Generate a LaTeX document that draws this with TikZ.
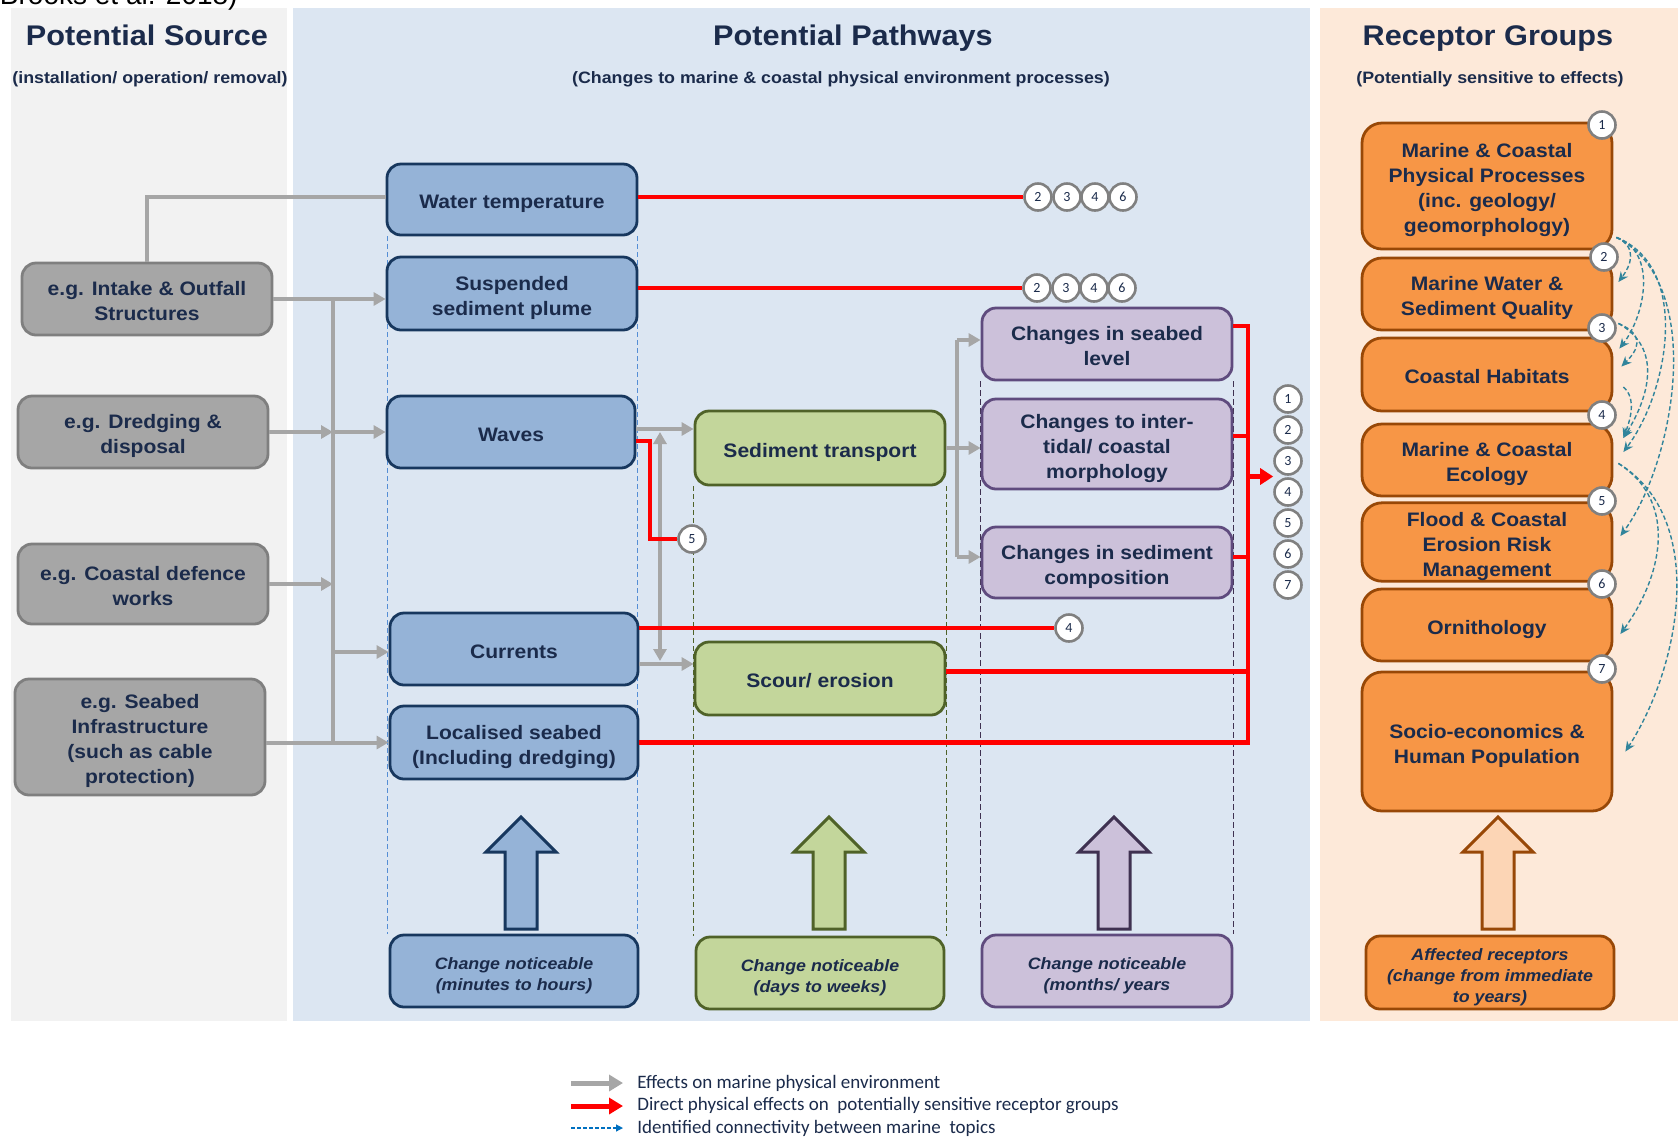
\documentclass[tikz,border=0pt]{standalone}
\usepackage{fontspec}
\setmainfont{Liberation Sans}[FakeStretch=1.08]
\newfontfamily\numfont{Carlito}
\newfontfamily\plainfont{Liberation Sans}
\usetikzlibrary{arrows.meta,calc}
\definecolor{txt}{HTML}{1B2B4B}
\definecolor{gfill}{HTML}{A6A6A6}
\definecolor{gdraw}{HTML}{7F7F7F}
\definecolor{bfill}{HTML}{95B3D7}
\definecolor{bdraw}{HTML}{17375E}
\definecolor{nfill}{HTML}{C3D69B}
\definecolor{ndraw}{HTML}{4F6228}
\definecolor{pfill}{HTML}{CCC1DA}
\definecolor{pdraw}{HTML}{5F4B7E}
\definecolor{pdark}{HTML}{3F3151}
\definecolor{ofill}{HTML}{F79646}
\definecolor{odraw}{HTML}{984807}
\definecolor{opeach}{HTML}{FCD5B5}
\definecolor{pan1}{HTML}{F2F2F2}
\definecolor{pan2}{HTML}{DCE6F2}
\definecolor{pan3}{HTML}{FDE9D9}
\definecolor{lgray}{HTML}{A6A6A6}
\definecolor{rd}{HTML}{FF0000}
\definecolor{tealc}{HTML}{31849B}
\definecolor{legblue}{HTML}{0070C0}
\definecolor{cgray}{HTML}{808080}
\definecolor{bguide}{HTML}{558ED5}
\pgfdeclarelayer{back}
\pgfdeclarelayer{mid}
\pgfsetlayers{back,mid,main}
\newcommand\fs{\rule{0pt}{11.7pt}}
\newcommand\fsi{\rule{0pt}{11.5pt}}
\newcommand\blockarrow[3]{\filldraw[line width=1.5pt, fill=#2, draw=#3, line join=miter]
  ({#1-16},929) -- ({#1-16},852) -- ({#1-35},852) -- (#1,817) -- ({#1+35},852) -- ({#1+16},852) -- ({#1+16},929) -- cycle;}
\tikzset{
 bxs/.style={rounded corners=7pt, line width=1.4pt, align=center, inner sep=0pt, text=txt,
   font=\bfseries\fontsize{9.75}{12.5}\selectfont, minimum width=125pt, minimum height=36pt,
   execute at begin node={\rule{0pt}{11.7pt}}, execute at end node={\rule[-2.5pt]{0pt}{2.5pt}}},
 gbox/.style={bxs, fill=gfill, draw=gdraw},
 bbox/.style={bxs, fill=bfill, draw=bdraw},
 nbox/.style={bxs, fill=nfill, draw=ndraw},
 pbox/.style={bxs, fill=pfill, draw=pdraw},
 obox/.style={bxs, fill=ofill, draw=odraw, rounded corners=10pt},
 ital/.style={font=\bfseries\itshape\fontsize{8.25}{10.5}\selectfont,
   execute at begin node={\rule{0pt}{11.5pt}}, execute at end node={\rule[-2pt]{0pt}{2pt}}},
 numc/.style={circle, draw=cgray, line width=1.3pt, fill=white, minimum size=13.5pt, inner sep=0pt,
   text=txt, font=\numfont\fontsize{7}{8}\selectfont},
 garr/.style={draw=lgray, line width=2pt, -{Triangle[length=6pt,width=6.5pt]}},
 gln/.style={draw=lgray, line width=2pt},
 rln/.style={draw=rd, line width=2.2pt},
 tarr/.style={draw=tealc, line width=0.7pt, dash pattern=on 2.2pt off 1.3pt, -{Stealth[length=5pt,width=4.5pt]}},
 ttl/.style={font=\bfseries\fontsize{14.2}{16}\selectfont, text=txt, anchor=base},
 subt/.style={font=\bfseries\fontsize{8.25}{10}\selectfont, text=txt, anchor=base},
 legt/.style={font=\numfont\fontsize{9.5}{11}\selectfont, text=txt, anchor=west, inner sep=0pt},
 guideb/.style={draw=bguide, line width=0.6pt, dash pattern=on 2.5pt off 1.5pt},
 guiden/.style={draw=ndraw, line width=0.6pt, dash pattern=on 2.5pt off 1.5pt},
 guidep/.style={draw=pdark, line width=0.7pt, dash pattern=on 3pt off 1.5pt},
}
\begin{document}
\begin{tikzpicture}[x=0.5pt,y=-0.5pt]
\useasboundingbox (0,0) rectangle (1678,1137);
\begin{pgfonlayer}{back}
\fill[white] (0,0) rectangle (1678,1137);
\fill[pan1] (11,8) rectangle (287,1021);
\fill[pan2] (293,8) rectangle (1310,1021);
\fill[pan3] (1320,8) rectangle (1678,1021);
\end{pgfonlayer}
\begin{scope}
\clip (0,0) rectangle (1678,1137);
\node[anchor=base east, font=\plainfont\fontsize{14}{16}\selectfont, text=black, inner sep=0pt] (cite) at (238,4) {Brooks et al. 2018)};
\end{scope}

% titles
\node[ttl] (t1) at (147,45) {Potential Source};
\node[subt] (s1) at (150,83.5) {(installation/ operation/ removal)};
\node[ttl] (t2) at (853,45) {Potential Pathways};
\node[subt] (s2) at (841,83.5) {(Changes to marine \& coastal physical environment processes)};
\node[ttl] (t3) at (1488,45) {Receptor Groups};
\node[subt] (s3) at (1490,83.5) {(Potentially sensitive to effects)};

% source boxes
\node[gbox] (G1) at (147,299) {\fs e.g. Intake \& Outfall\\Structures};
\node[gbox] (G2) at (143,432) {\fs e.g. Dredging \&\\disposal};
\node[gbox, minimum height=40pt] (G3) at (143,584) {\fs e.g. Coastal defence\\works};
\node[gbox, minimum height=58pt] (G4) at (140,737) {\fs e.g. Seabed\\Infrastructure\\(such as cable\\protection)};

% blue
\node[bbox, minimum height=35.5pt] (B1) at (512,199.5) {Water temperature};
\node[bbox, minimum height=36.5pt] (B2) at (512,293.5) {\fs Suspended\\sediment plume};
\node[bbox, minimum width=124pt] (B3) at (511,432) {Waves};
\node[bbox, minimum width=124pt] (B4) at (514,649) {Currents};
\node[bbox, minimum width=124pt, minimum height=36.5pt] (B5) at (514,742.5) {\fs Localised seabed\\(Including dredging)};
\node[bbox, minimum width=124pt, ital] (B6) at (514,971) {\fsi Change noticeable\\(minutes to hours)};

% green
\node[nbox, minimum height=37pt] (N1) at (820,448) {Sediment transport};
\node[nbox, minimum height=36.5pt] (N2) at (820,678.5) {Scour/ erosion};
\node[nbox, minimum width=124pt, ital] (N3) at (820,973) {\fsi Change noticeable\\(days to weeks)};

% purple
\node[pbox] (P1) at (1107,344) {\fs Changes in seabed\\level};
\node[pbox, minimum height=45pt] (P2) at (1107,444) {\fs Changes to inter-\\tidal/ coastal\\morphology};
\node[pbox, minimum height=35.5pt] (P3) at (1107,562.5) {\fs Changes in sediment\\composition};
\node[pbox, ital] (P4) at (1107,971) {\fsi Change noticeable\\(months/ years};

% orange
\node[obox, minimum height=63pt] (O1) at (1487,186) {\fs Marine \& Coastal\\Physical Processes\\(inc. geology/\\geomorphology)};
\node[obox] (O2) at (1487,294) {\fs Marine Water \&\\Sediment Quality};
\node[obox, minimum height=36.5pt] (O3) at (1487,374.5) {Coastal Habitats};
\node[obox] (O4) at (1487,460) {\fs Marine \& Coastal\\Ecology};
\node[obox] (O5) at (1487,542) {\fs Flood \& Coastal\\Erosion Risk\\Management};
\node[obox] (O6) at (1487,625) {Ornithology};
\node[obox, minimum height=69.5pt] (O7) at (1487,741.5) {\fs Socio-economics \&\\Human Population};
\node[obox, minimum width=124pt, minimum height=36.5pt, rounded corners=7pt, ital] (O8) at (1490,972.5) {\fsi Affected receptors\\(change from immediate\\to years)};

% guides
\begin{pgfonlayer}{mid}
\draw[guideb] ([xshift=1pt]B1.south west) -- ([xshift=1pt]B1.south west |- B6.north);
\draw[guideb] ([xshift=-0.5pt]B1.south east) -- ([xshift=-0.5pt]B1.south east |- B6.north);
\draw[guiden] (N1.south west) -- (N1.south west |- N3.north);
\draw[guiden] (N1.south east) -- (N1.south east |- N3.north);
\draw[guidep] (P1.south west) -- (P1.south west |- P4.north);
\draw[guidep] (P1.south east) -- (P1.south east |- P4.north);
\end{pgfonlayer}

% numbered circles
\node[numc] (a2) at (1038,197) {2};
\node[numc] (a3) at (1067,197) {3};
\node[numc] (a4) at (1095,197) {4};
\node[numc] (a6) at (1123,197) {6};
\node[numc] (b2) at (1037,288) {2};
\node[numc] (b3) at (1066,288) {3};
\node[numc] (b4) at (1094,288) {4};
\node[numc] (b6) at (1122,288) {6};
\node[numc] (c5w) at (692,539) {5};
\node[numc] (c4c) at (1069,628) {4};
\foreach \i/\yy in {1/399,2/430,3/461,4/492,5/523,6/554,7/585}{
  \node[numc] (k\i) at (1288,\yy) {\i};
}
\node[numc] (r1) at (1602,125) {1};
\node[numc] (r2) at (1604,257) {2};
\node[numc] (r3) at (1602,328) {3};
\node[numc] (r4) at (1602,415) {4};
\node[numc] (r5) at (1602,501) {5};
\node[numc] (r6) at (1602,584) {6};
\node[numc] (r7) at (1602,669) {7};

% grey connectors (source -> pathways)
\coordinate (tk) at (333,0);
\coordinate (b4w) at ([yshift=-1.5pt]B4.west);
\draw[gln] (G1.north) |- ([yshift=1.5pt]B1.west);
\draw[garr] (G1.east) -- (G1.east -| B2.west);
\draw[gln] (tk |- G1.east) -- (tk |- B5.west);
\draw[garr] (G2.east) -- (tk |- G2.east);
\draw[garr] (tk |- B3.west) -- (B3.west);
\draw[garr] (G3.east) -- (tk |- G3.east);
\draw[garr] (tk |- b4w) -- (b4w);
\draw[garr] (G4.east |- B5.west) -- (B5.west);

% grey connectors (pathways)
\coordinate (wv) at ([yshift=1.5pt]B3.east);
\coordinate (cu) at ([yshift=-7.5pt]B4.east);
\coordinate (dv) at (660,0);
\draw[garr] (wv) -- (wv -| N1.west);
\draw[garr] (cu) -- (cu -| N2.west);
\draw[gln, {Triangle[length=6pt,width=6.5pt]}-{Triangle[length=6pt,width=6.5pt]}] ([yshift=-1.5pt]dv |- wv) -- ([yshift=1.5pt]dv |- cu);
\coordinate (sx) at (957,0);
\coordinate (p1g) at ([yshift=2pt]P1.west);
\coordinate (p3g) at ([yshift=2.75pt]P3.west);
\draw[garr] (N1.east) -- (N1.east -| P2.west);
\draw[gln] (sx |- p1g) -- (sx |- p3g);
\draw[garr] (sx |- p1g) -- (p1g);
\draw[garr] (sx |- p3g) -- (p3g);

% red connectors
\draw[rln] (a2 -| B1.east) -- (a2.west);
\draw[rln] (b2 -| B2.east) -- (b2.west);
\coordinate (rw) at ([yshift=-4.5pt]B3.east);
\coordinate (rk) at (650,0);
\draw[rln] (rw) -- (rk |- rw) -- (rk |- c5w) -- (c5w.west);
\draw[rln] (c4c -| B4.east) -- (c4c.west);
\coordinate (rv) at (1248,0);
\coordinate (p1r) at ([yshift=9pt]P1.east);
\coordinate (p2r) at ([yshift=4pt]P2.east);
\coordinate (p3r) at ([yshift=2.75pt]P3.east);
\coordinate (n2r) at ([yshift=3.5pt]N2.east);
\draw[rln] (p1r) -- (rv |- p1r) -- (rv |- B5.east) -- (B5.east);
\draw[rln] (p2r) -- (rv |- p2r);
\draw[rln] (p3r) -- (rv |- p3r);
\draw[rln] (n2r) -- (rv |- n2r);
\coordinate (km) at ($(k3)!0.5!(k4)$);
\draw[rln, -{Triangle[length=6.5pt,width=8pt]}] (rv |- km) -- (km -| k3.west);

% teal connectivity
\coordinate (s1) at ([xshift=1.5pt,yshift=6.5pt]O1.south east);
\coordinate (s2) at ([xshift=2.5pt,yshift=4pt]O2.south east);
\coordinate (s3) at ([xshift=5pt,yshift=-6.25pt]O3.east);
\coordinate (s4) at ([xshift=2.5pt,yshift=17pt]O4.south east);
\coordinate (e2) at ([xshift=2.5pt,yshift=6pt]O2.east);
\coordinate (e3a) at ([xshift=3pt,yshift=13pt]O3.east);
\coordinate (e3b) at ([xshift=4pt,yshift=4pt]O3.east);
\coordinate (e4a) at ([xshift=5pt,yshift=11pt]O4.east);
\coordinate (e4b) at ([xshift=5pt,yshift=4pt]O4.east);
\coordinate (e5) at ([xshift=3.5pt,yshift=3pt]O5.east);
\coordinate (e6) at ([xshift=3.5pt,yshift=-4.5pt]O6.east);
\coordinate (e7) at ([xshift=6pt,yshift=-5pt]O7.east);
\draw[tarr] (s1) .. controls +(22,10) and +(12,-16) .. (e2);
\draw[tarr] (s1) .. controls +(42,15) and +(25,-32) .. (e3a);
\draw[tarr] (s2) .. controls +(28,12) and +(16,-16) .. (e3b);
\draw[tarr] (s3) .. controls +(14,12) and +(6,-16) .. (e4a);
\draw[tarr] (s2) .. controls +(45,25) and +(25,-40) .. (e4a);
\draw[tarr] (s1) .. controls +(75,30) and +(45,-60) .. (e4b);
\draw[tarr] (s1) .. controls +(90,45) and +(55,-75) .. (e5);
\draw[tarr] (s4) .. controls +(62,40) and +(40,-55) .. (e6);
\draw[tarr] (s4) .. controls +(90,55) and +(55,-85) .. (e7);

% block arrows
\blockarrow{521}{bfill}{bdraw}
\blockarrow{829}{nfill}{ndraw}
\blockarrow{1114}{pfill}{pdark}
\blockarrow{1498}{opeach}{odraw}

% legend
\node[legt] (L1) at (637,1083) {Effects on marine physical environment};
\node[legt] (L2) at (637,1106) {Direct physical effects on\ \ potentially sensitive receptor groups};
\node[legt] (L3) at (637,1128) {Identified connectivity between marine\ \ topics};
\draw[draw=lgray, line width=2.5pt, -{Triangle[length=7pt,width=8pt]}] ([xshift=-33pt]L1.west) -- ([xshift=-7pt]L1.west);
\draw[draw=rd, line width=2.5pt, -{Triangle[length=7pt,width=8pt]}] ([xshift=-33pt]L2.west) -- ([xshift=-7pt]L2.west);
\draw[draw=legblue, line width=0.6pt, dash pattern=on 2pt off 1pt, -{Triangle[length=3.5pt,width=3.5pt]}] ([xshift=-33pt]L3.west) -- ([xshift=-7pt]L3.west);
\end{tikzpicture}
\end{document}
